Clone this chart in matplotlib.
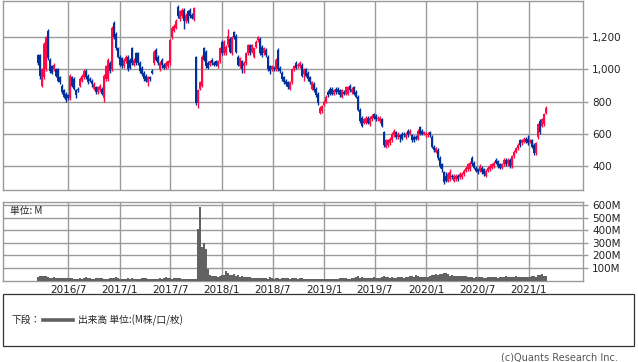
import matplotlib
matplotlib.use("Agg")
import matplotlib.pyplot as plt
import matplotlib.dates as mdates
import matplotlib.ticker as mticker
from matplotlib.patches import Rectangle
from matplotlib.lines import Line2D
import numpy as np
import pandas as pd

# ---------------- data (weekly candles) ----------------
start_date = "2016-03-16"
end_date = "2021-03-03"

opens = [
    1090, 1090, 900, 950, 1000, 1240, 1060, 1020, 1000, 1000,
    1000, 950, 900, 870, 850, 840, 820, 950, 940, 870,
    880, 900, 930, 950, 990, 960, 940, 930, 880, 890,
    860, 870, 880, 820, 940, 940, 1040, 1000, 1290, 1220,
    1130, 1080, 1070, 1020, 1050, 1080, 1060, 1130, 1030, 1100,
    1100, 1040, 1010, 980, 960, 920, 950, 990, 1040, 1120,
    1080, 1000, 1060, 1030, 1010, 1020, 1040, 1200, 1240, 1260,
    1390, 1310, 1330, 1370, 1300, 1360, 1370, 1340, 1310, 1080,
    790, 880, 900, 1130, 1110, 1040, 1030, 1060, 1040, 1050,
    1020, 1050, 1170, 1100, 1100, 1150, 1190, 1100, 1230, 1210,
    1080, 1020, 1050, 1020, 1040, 1100, 1150, 1110, 1080, 1140,
    1180, 1190, 1140, 1100, 1120, 1080, 1020, 1000, 1010, 1000,
    1120, 1010, 980, 950, 930, 920, 880, 920, 1000, 1040,
    1020, 1020, 1030, 970, 1000, 980, 950, 880, 910, 880,
    850, 730, 740, 780, 800, 860, 880, 880, 850, 880,
    880, 870, 830, 860, 850, 850, 900, 860, 890, 860,
    830, 750, 700, 670, 670, 700, 660, 690, 720, 710,
    690, 680, 690, 610, 520, 530, 540, 560, 590, 610,
    580, 590, 600, 600, 580, 620, 600, 590, 580, 580,
    570, 640, 620, 600, 590, 590, 610, 580, 520, 490,
    500, 450, 410, 360, 340, 310, 320, 340, 310, 320,
    340, 330, 330, 350, 370, 380, 380, 450, 420, 390,
    380, 370, 390, 380, 340, 370, 380, 390, 400, 440,
    430, 410, 390, 410, 440, 410, 440, 400, 460, 490,
    510, 560, 540, 550, 570, 570, 550, 560, 530, 480,
    580, 680, 650, 660, 730,
]
closes = [
    1040, 960, 1000, 1160, 1200, 1070, 990, 980, 1030, 960,
    930, 920, 860, 830, 810, 820, 960, 900, 880, 840,
    870, 940, 960, 990, 950, 920, 930, 910, 910, 860,
    890, 900, 850, 960, 1020, 1060, 990, 1260, 1200, 1130,
    1080, 1030, 1020, 1060, 1080, 1000, 1010, 1040, 1060, 1040,
    1040, 990, 970, 940, 930, 950, 940, 980, 1110, 1060,
    1040, 1040, 1030, 1010, 1040, 1050, 1180, 1260, 1270, 1300,
    1330, 1360, 1370, 1300, 1340, 1300, 1330, 1320, 1380, 790,
    870, 920, 1080, 1060, 1020, 1010, 1050, 1040, 1030, 1030,
    1050, 1130, 1100, 1170, 1140, 1210, 1110, 1200, 1200, 1110,
    1030, 1070, 1000, 1040, 1100, 1150, 1100, 1150, 1130, 1170,
    1200, 1100, 1090, 1130, 1090, 1000, 990, 1020, 1000, 1060,
    1000, 990, 940, 920, 910, 890, 920, 1000, 1020, 1010,
    1030, 1040, 960, 1000, 960, 940, 920, 920, 870, 840,
    790, 760, 770, 800, 830, 840, 850, 850, 870, 860,
    860, 840, 870, 850, 890, 890, 870, 880, 850, 830,
    750, 680, 650, 690, 700, 670, 700, 710, 700, 690,
    700, 700, 650, 530, 560, 560, 570, 600, 620, 580,
    600, 580, 570, 590, 600, 590, 620, 560, 560, 570,
    620, 600, 600, 610, 600, 600, 590, 520, 500, 510,
    450, 400, 380, 300, 310, 350, 360, 330, 340, 340,
    320, 350, 350, 370, 390, 410, 420, 410, 390, 370,
    360, 400, 360, 350, 370, 390, 400, 410, 420, 420,
    400, 390, 410, 440, 410, 440, 400, 460, 490, 510,
    530, 530, 560, 570, 550, 540, 560, 520, 480, 540,
    660, 610, 690, 720, 760,
]
highs = [
    1095, 1095, 1010, 1170, 1210, 1250, 1070, 1030, 1040, 1010,
    1010, 960, 910, 880, 860, 850, 970, 960, 950, 880,
    890, 950, 970, 1000, 1000, 970, 950, 940, 920, 900,
    900, 910, 890, 970, 1030, 1070, 1050, 1270, 1300, 1230,
    1140, 1090, 1080, 1070, 1090, 1090, 1070, 1140, 1070, 1110,
    1110, 1050, 1020, 990, 970, 960, 960, 1000, 1120, 1130,
    1090, 1050, 1070, 1040, 1050, 1060, 1190, 1270, 1280, 1310,
    1400, 1370, 1380, 1380, 1350, 1370, 1380, 1350, 1390, 1085,
    880, 930, 1090, 1140, 1120, 1050, 1060, 1070, 1050, 1060,
    1060, 1140, 1180, 1180, 1150, 1250, 1200, 1210, 1240, 1220,
    1090, 1080, 1060, 1050, 1110, 1160, 1160, 1160, 1140, 1180,
    1210, 1200, 1150, 1140, 1130, 1090, 1030, 1030, 1020, 1070,
    1130, 1020, 990, 960, 940, 930, 930, 1010, 1030, 1050,
    1040, 1050, 1040, 1010, 1010, 990, 960, 930, 920, 890,
    860, 770, 780, 810, 840, 870, 890, 890, 880, 890,
    890, 880, 880, 870, 900, 900, 910, 890, 900, 870,
    840, 760, 710, 700, 710, 710, 710, 720, 730, 720,
    710, 710, 700, 620, 570, 570, 580, 610, 630, 620,
    610, 600, 610, 610, 610, 630, 630, 600, 590, 590,
    630, 650, 630, 620, 610, 610, 620, 590, 530, 520,
    510, 460, 420, 370, 360, 360, 380, 350, 350, 350,
    350, 360, 360, 380, 400, 420, 430, 460, 430, 400,
    390, 410, 400, 390, 380, 400, 410, 420, 430, 450,
    440, 420, 420, 450, 450, 450, 450, 470, 500, 520,
    540, 570, 570, 580, 580, 590, 570, 570, 540, 550,
    670, 690, 700, 730, 770,
]
lows = [
    1030, 940, 890, 940, 990, 1060, 980, 970, 990, 950,
    920, 910, 850, 820, 800, 810, 810, 890, 870, 820,
    860, 890, 920, 940, 940, 910, 920, 890, 870, 850,
    850, 860, 840, 800, 930, 930, 980, 990, 1190, 1120,
    1070, 1020, 1010, 1010, 1040, 990, 1000, 1030, 1020, 1030,
    1030, 980, 960, 930, 920, 900, 930, 970, 1030, 1050,
    1030, 990, 1010, 1000, 1000, 1010, 1030, 1190, 1230, 1250,
    1320, 1300, 1320, 1250, 1290, 1290, 1320, 1310, 1300, 780,
    760, 870, 890, 1050, 1010, 1000, 1020, 1030, 1020, 1020,
    1010, 1040, 1090, 1090, 1090, 1140, 1100, 1090, 1190, 1100,
    1020, 1010, 980, 980, 1030, 1090, 1090, 1100, 1070, 1130,
    1170, 1090, 1080, 1090, 1080, 990, 970, 990, 990, 990,
    990, 980, 930, 910, 900, 880, 870, 910, 990, 1000,
    1010, 1010, 950, 930, 950, 930, 910, 870, 860, 830,
    780, 720, 730, 770, 790, 830, 840, 840, 840, 850,
    850, 830, 820, 840, 840, 840, 860, 850, 840, 820,
    740, 670, 640, 660, 660, 660, 650, 680, 690, 680,
    680, 670, 640, 520, 510, 520, 530, 550, 580, 570,
    570, 550, 560, 580, 570, 580, 590, 550, 550, 560,
    560, 590, 590, 590, 580, 580, 580, 510, 490, 480,
    440, 390, 360, 290, 300, 300, 310, 320, 300, 310,
    310, 320, 320, 340, 360, 370, 370, 400, 380, 360,
    350, 360, 350, 340, 330, 360, 370, 380, 390, 410,
    390, 380, 380, 400, 400, 400, 390, 390, 450, 480,
    500, 520, 530, 540, 540, 530, 540, 510, 470, 470,
    570, 600, 640, 650, 720,
]
volumes_m = [
    30, 35, 38, 36, 34, 30, 22, 20, 24, 22,
    20, 22, 18, 20, 22, 18, 16, 20, 14, 12,
    14, 16, 12, 20, 24, 18, 16, 14, 12, 18,
    20, 22, 18, 14, 10, 12, 16, 18, 22, 24,
    16, 14, 12, 14, 12, 16, 14, 18, 12, 10,
    12, 14, 16, 22, 18, 14, 12, 10, 12, 14,
    12, 16, 14, 20, 24, 18, 22, 14, 16, 18,
    16, 22, 14, 12, 10, 14, 12, 10, 12, 14,
    410, 585, 270, 300, 250, 95, 42, 38, 36, 34,
    30, 36, 40, 44, 76, 62, 40, 46, 52, 38,
    40, 30, 34, 26, 24, 30, 28, 22, 20, 22,
    18, 20, 22, 18, 16, 14, 24, 20, 14, 18,
    16, 14, 20, 22, 18, 16, 14, 18, 20, 16,
    14, 18, 16, 14, 12, 10, 12, 10, 10, 10,
    12, 10, 10, 10, 8, 8, 10, 10, 8, 12,
    14, 16, 18, 16, 20, 14, 12, 18, 16, 24,
    36, 22, 26, 18, 20, 22, 18, 20, 26, 22,
    20, 18, 28, 36, 26, 24, 22, 24, 20, 22,
    30, 26, 24, 22, 30, 28, 36, 32, 26, 44,
    34, 28, 26, 24, 30, 28, 36, 40, 46, 48,
    44, 48, 52, 56, 58, 50, 36, 40, 38, 34,
    36, 32, 38, 36, 34, 30, 26, 24, 22, 24,
    28, 24, 26, 20, 22, 24, 28, 30, 26, 24,
    22, 24, 26, 30, 32, 28, 26, 24, 30, 34,
    30, 28, 26, 28, 24, 30, 28, 34, 32, 30,
    44, 40, 52, 36, 34,
]
price_ticks = [400, 600, 800, 1000, 1200]
volume_ticks_m = [100, 200, 300, 400, 500, 600]
grid_dates = ["2016-07-01", "2017-01-01", "2017-07-01", "2018-01-01", "2018-07-01",
              "2019-01-01", "2019-07-01", "2020-01-01", "2020-07-01", "2021-01-01"]
grid_labels = ["2016/7", "2017/1", "2017/7", "2018/1", "2018/7",
               "2019/1", "2019/7", "2020/1", "2020/7", "2021/1"]

# ---------------- styling ----------------
UP = "#ff0a46"
DOWN = "#00309a"
GRID = "#9a9a9a"
VOL = "#626262"

fig = plt.figure(figsize=(6.38, 3.62), dpi=100)
W, H = 638, 362

def rect(l, t, r, b):
    return [l / W, 1 - b / H, (r - l) / W, (b - t) / H]

ax = fig.add_axes(rect(3, 0.5, 583, 190))
axv = fig.add_axes(rect(3, 201.7, 583, 280.5), sharex=ax)

dates = pd.date_range(start_date, end_date, periods=len(closes))
x = mdates.date2num(dates)
o = np.array(opens, float); c = np.array(closes, float)
h = np.array(highs, float); l = np.array(lows, float)
up = c >= o
cols = np.where(up, UP, DOWN)

ax.vlines(x, l, h, colors=cols, linewidth=1.0, zorder=3)
body_bottom = np.minimum(o, c)
body_h = np.maximum(np.abs(c - o), 7)
ax.bar(x, body_h, bottom=body_bottom, width=6.8, color=cols, linewidth=0, zorder=3)

axv.bar(x, np.array(volumes_m, float), width=7.2, color=VOL, linewidth=0, zorder=3)

xmin = mdates.date2num(pd.Timestamp("2015-11-12"))
xmax = mdates.date2num(pd.Timestamp("2021-07-13"))
ax.set_xlim(xmin, xmax)
ax.set_ylim(251, 1428)
axv.set_ylim(0, 626)

gd = mdates.date2num(pd.to_datetime(grid_dates))
for a in (ax, axv):
    a.set_xticks(gd)
    a.grid(True, color=GRID, linewidth=1.0, zorder=0)
    a.set_axisbelow(True)
    for s in a.spines.values():
        s.set_color(GRID)
        s.set_linewidth(1.0)
    a.yaxis.tick_right()
    a.tick_params(axis="y", which="both", right=True, left=False, length=3.5,
                  width=1.0, color=GRID, pad=3, labelsize=7.5, labelcolor="#222222")

ax.set_yticks(price_ticks)
ax.yaxis.set_major_formatter(mticker.FuncFormatter(lambda v, p: f"{v:,.0f}"))
ax.tick_params(axis="x", bottom=False, labelbottom=False)

axv.set_yticks(volume_ticks_m)
axv.yaxis.set_major_formatter(mticker.FuncFormatter(lambda v, p: f"{v:.0f}M"))
axv.set_xticklabels(grid_labels)
axv.tick_params(axis="x", bottom=False, length=0, pad=3.5, labelsize=7.5, labelcolor="#222222")

cjk = ["Noto Sans CJK JP", "DejaVu Sans"]
axv.text(7 / 580, 0.95, "単位: M", transform=axv.transAxes, ha="left", va="top",
         fontsize=7, family=cjk, color="#222222")

# legend box
fig.patches.append(Rectangle((3 / W, 1 - 346 / H), (634 - 3) / W, (346 - 294) / H,
                             transform=fig.transFigure, fill=False,
                             edgecolor="#333333", linewidth=0.9))
ly = 1 - 320 / H
fig.text(12 / W, ly, "下段：", fontsize=7, family=cjk, va="center", ha="left", color="#222222")
fig.add_artist(Line2D([43 / W, 73 / W], [ly, ly], transform=fig.transFigure,
                      color=VOL, linewidth=2.6))
fig.text(78 / W, ly, "出来高 単位:(M株/口/枚)", fontsize=7, family=cjk,
         va="center", ha="left", color="#222222")
fig.text(618 / W, 1 - 357 / H, "(c)Quants Research Inc.", fontsize=7, ha="right",
         va="center", color="#555555")

fig.savefig("out.png", dpi=100)
